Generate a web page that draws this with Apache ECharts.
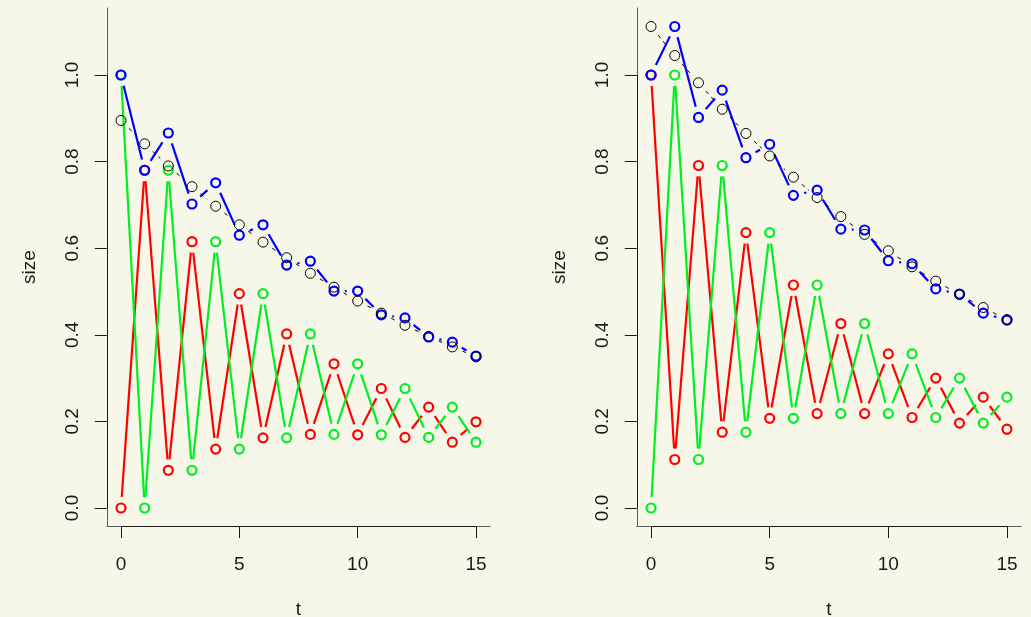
<!DOCTYPE html>
<html><head><meta charset="utf-8">
<script src="https://cdn.jsdelivr.net/npm/echarts@6/dist/echarts.min.js"></script>
<style>html,body{margin:0;padding:0;background:#f7f7e9}#c{width:1031px;height:617px}</style>
</head><body><div id="c"></div>
<script>
const tVals = [0,1,2,3,4,5,6,7,8,9,10,11,12,13,14,15];
const xTicks = [0,5,10,15];
const yTicks = [0,0.2,0.4,0.6,0.8,1.0];

const leftRed   = [0,0.780,0.087,0.615,0.136,0.495,0.162,0.402,0.170,0.333,0.169,0.276,0.163,0.233,0.152,0.199];
const leftGreen = [1.0,0,0.780,0.087,0.615,0.136,0.495,0.162,0.402,0.170,0.333,0.169,0.276,0.163,0.233,0.152];
const leftBlue  = [1.0,0.780,0.866,0.702,0.751,0.630,0.654,0.561,0.570,0.501,0.501,0.446,0.439,0.395,0.383,0.351];
const leftBlack = [0.895,0.841,0.790,0.742,0.697,0.654,0.614,0.578,0.542,0.510,0.478,0.450,0.422,0.396,0.372,0.349];

const rightRed   = [1.0,0.112,0.791,0.175,0.636,0.207,0.515,0.218,0.426,0.218,0.356,0.209,0.300,0.196,0.256,0.182];
const rightGreen = [0,1.0,0.112,0.791,0.175,0.636,0.207,0.515,0.218,0.426,0.218,0.356,0.209,0.300,0.196,0.256];
const rightBlue  = [1.0,1.112,0.902,0.965,0.809,0.840,0.722,0.734,0.644,0.642,0.571,0.564,0.506,0.494,0.450,0.434];
const rightBlack = [1.112,1.045,0.982,0.921,0.865,0.813,0.764,0.717,0.673,0.632,0.594,0.557,0.524,0.493,0.463,0.435];

const FONT = '"Liberation Sans", Arial, sans-serif';
const AX = '#1a1a1a';
const BOX = '#5a5a5a';
const GAP = 11;
const XMIN = -0.6, XMAX = 15.6, YMIN = -0.0416, YMAX = 1.1547;

function pairs(ys){ return tVals.map((t,i)=>[t, ys[i]]); }

function gappedLine(ys, color, width, dash, gi, z){
  const data = pairs(ys);
  return {
    type:'custom', xAxisIndex:gi, yAxisIndex:gi, z:z, silent:true,
    data:data,
    renderItem:function(params, api){
      const i = params.dataIndex;
      if (i >= data.length-1) return null;
      const p0 = api.coord(data[i]);
      const p1 = api.coord(data[i+1]);
      const dx = p1[0]-p0[0], dy = p1[1]-p0[1];
      const d = Math.sqrt(dx*dx+dy*dy);
      if (d <= 2*GAP) return null;
      const ux = dx/d, uy = dy/d;
      return {type:'line', shape:{x1:p0[0]+ux*GAP, y1:p0[1]+uy*GAP, x2:p1[0]-ux*GAP, y2:p1[1]-uy*GAP},
        style:{stroke:color, lineWidth:width, lineDash:dash}};
    }
  };
}
function circles(ys, color, width, size, gi, z){
  return {type:'scatter', xAxisIndex:gi, yAxisIndex:gi, z:z, silent:true,
    data:pairs(ys), symbol:'circle', symbolSize:size,
    itemStyle:{color:'rgba(0,0,0,0)', borderColor:color, borderWidth:width, opacity:1}};
}
function axisSegments(gi){
  return {type:'scatter', xAxisIndex:gi, yAxisIndex:gi, z:1, silent:true, data:[], symbolSize:0,
    markLine:{silent:true, symbol:'none', animation:false, label:{show:false},
      lineStyle:{color:AX, width:1, type:'solid'},
      emphasis:{disabled:true},
      data:[
        [{coord:[xTicks[0], YMIN]}, {coord:[xTicks[xTicks.length-1], YMIN]}],
        [{coord:[XMIN, yTicks[0]]}, {coord:[XMIN, yTicks[yTicks.length-1]]}]
      ]}};
}

function xAxis(gi){
  return {type:'value', gridIndex:gi, min:XMIN, max:XMAX,
    axisLine:{show:true, onZero:false, lineStyle:{color:BOX, width:1}},
    axisTick:{show:true, length:12, customValues:xTicks, lineStyle:{color:AX, width:1}},
    axisLabel:{customValues:xTicks, fontSize:19, fontFamily:FONT, color:AX, margin:29},
    splitLine:{show:false},
    name:'t', nameLocation:'middle', nameGap:74, nameTextStyle:{fontSize:19, fontFamily:FONT, color:AX}};
}
function yAxis(gi){
  return {type:'value', gridIndex:gi, min:YMIN, max:YMAX,
    axisLine:{show:true, onZero:false, lineStyle:{color:BOX, width:1}},
    axisTick:{show:true, length:12, customValues:yTicks, lineStyle:{color:AX, width:1}},
    axisLabel:{customValues:yTicks, rotate:90, fontSize:19, fontFamily:FONT, color:AX, margin:25,
      formatter:function(v){return v.toFixed(1);}},
    splitLine:{show:false},
    name:'size', nameLocation:'middle', nameGap:68, nameRotate:90, nameTextStyle:{fontSize:19, fontFamily:FONT, color:AX}};
}

function panel(gi, red, green, blue, black){
  return [
    axisSegments(gi),
    gappedLine(red, '#ff0000', 2.2, null, gi, 2), circles(red, '#ff0000', 2.2, 9, gi, 3),
    gappedLine(green, '#00ee22', 2.2, null, gi, 4), circles(green, '#00ee22', 2.2, 9, gi, 5),
    gappedLine(blue, '#0000ff', 2.2, null, gi, 6), circles(blue, '#0000ff', 2.2, 9, gi, 7),
    gappedLine(black, '#000000', 1, [4,4], gi, 8), circles(black, '#000000', 1, 10, gi, 9)
  ];
}

const chart = echarts.init(document.getElementById('c'), null, {renderer:'canvas'});
chart.setOption({
  backgroundColor:'#f7f7e9',
  animation:false,
  grid:[
    {left:106.8, right:540.8, top:8, bottom:91, outerBoundsMode:'none', containLabel:false},
    {left:636.8, right:9.8, top:8, bottom:91, outerBoundsMode:'none', containLabel:false}
  ],
  xAxis:[xAxis(0), xAxis(1)],
  yAxis:[yAxis(0), yAxis(1)],
  series:[].concat(panel(0, leftRed, leftGreen, leftBlue, leftBlack), panel(1, rightRed, rightGreen, rightBlue, rightBlack))
});
</script>
</body></html>
